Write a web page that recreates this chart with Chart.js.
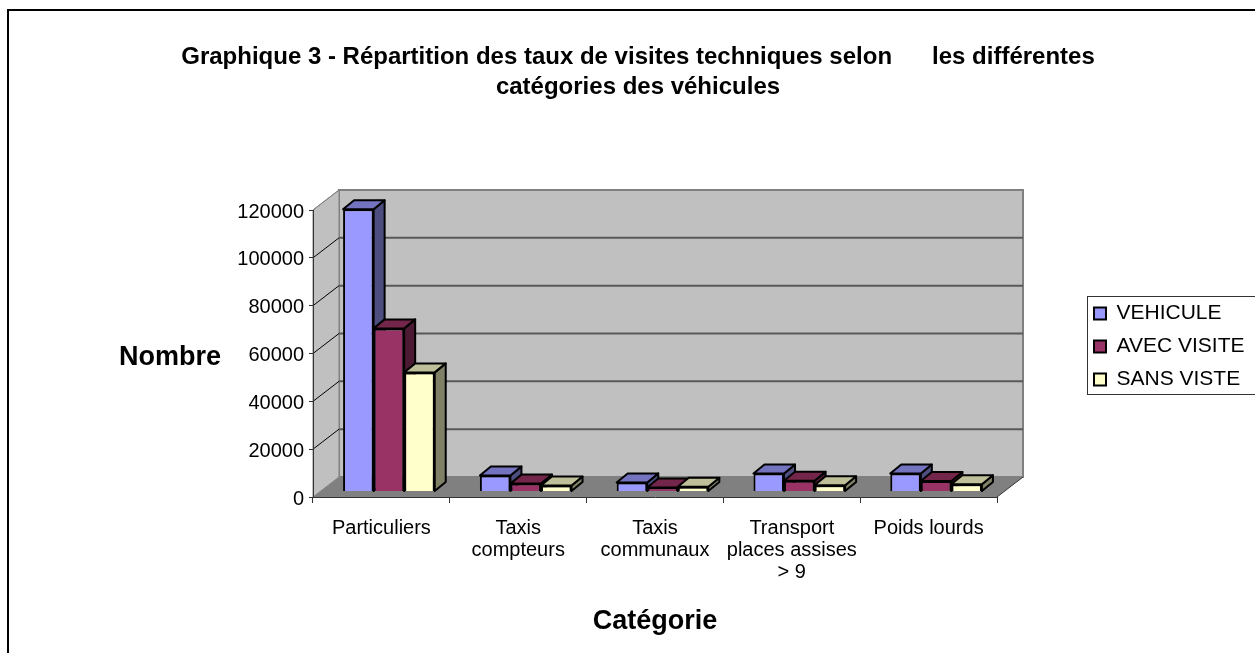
<!DOCTYPE html>
<html>
<head>
<meta charset="utf-8">
<title>Graphique 3</title>
<script src="https://cdn.jsdelivr.net/npm/chart.js@4/dist/chart.umd.min.js"></script>
<style>
    body { margin: 0; background: #fff; overflow: hidden; }
    canvas { display: block; }
</style>
</head>
<body>
<canvas id="chart" width="1255" height="653"></canvas>
<script>
// Data
const categories = [
    'Particuliers',
    ['Taxis', 'compteurs'],
    ['Taxis', 'communaux'],
    ['Transport', 'places assises', '> 9'],
    'Poids lourds'
];
const seriesNames = ['VEHICULE', 'AVEC VISITE', 'SANS VISTE'];
const vehicule = [118000, 6700, 3800, 7500, 7500];
const avecVisite = [68200, 3300, 1700, 4500, 4400];
const sansViste = [49800, 2500, 2000, 2600, 3000];

// Colours: front, side and top of each series
const frontColors = ['#9999FF', '#993366', '#FFFFCC'];
const sideColors = ['#4D4D80', '#4D1A33', '#808066'];
const topColors = ['#7373BF', '#732649', '#BFBF99'];

// Depth of the plot box and of the bars
const wallDx = 26, wallDy = 20;
const barDx = 11, barDy = 9;

function poly(ctx, points, fill, stroke, lineWidth) {
    ctx.beginPath();
    points.forEach((p, i) => i ? ctx.lineTo(p[0], p[1]) : ctx.moveTo(p[0], p[1]));
    ctx.closePath();
    if (fill) { ctx.fillStyle = fill; ctx.fill(); }
    if (stroke) { ctx.strokeStyle = stroke; ctx.lineWidth = lineWidth; ctx.stroke(); }
}

// Walls, floor, frame and legend box go under everything else
const backdrop = {
    id: 'backdrop',
    afterLayout(chart) {
        chart.titleBlock.left = 21;
        chart.titleBlock.right = 1255;
        const legend = chart.legend;
        legend.left = 1082;
        legend.top = 291;
        legend.right = 1255;
        legend.bottom = 440;
        legend.width = 173;
        legend.height = 149;
    },
    beforeDraw(chart) {
        const ctx = chart.ctx;
        const { left, right, top, bottom } = chart.chartArea;
        const y = chart.scales.y;
        ctx.save();

        // Frame of the picture, cut off on the right and bottom
        ctx.strokeStyle = '#000';
        ctx.lineWidth = 2;
        ctx.beginPath();
        ctx.moveTo(8, 653);
        ctx.lineTo(8, 10);
        ctx.lineTo(1255, 10);
        ctx.stroke();

        poly(ctx, [[left + wallDx, top - wallDy], [right + wallDx, top - wallDy],
            [right + wallDx, bottom - wallDy], [left + wallDx, bottom - wallDy]], '#C0C0C0', '#808080', 2);
        poly(ctx, [[left, top], [left + wallDx, top - wallDy],
            [left + wallDx, bottom - wallDy], [left, bottom]], '#C0C0C0', '#808080', 1);

        // Gridlines on the back wall and the left wall
        y.ticks.forEach(t => {
            const py = y.getPixelForValue(t.value);
            if (t.value === 0) return;
            if (t.value < y.max) {
                ctx.strokeStyle = '#595959';
                ctx.lineWidth = 2;
                ctx.beginPath();
                ctx.moveTo(left + wallDx, py - wallDy);
                ctx.lineTo(right + wallDx, py - wallDy);
                ctx.stroke();
            }
            ctx.strokeStyle = t.value < y.max ? '#000' : '#808080';
            ctx.lineWidth = 1;
            ctx.beginPath();
            ctx.moveTo(left, py);
            ctx.lineTo(left + wallDx, py - wallDy);
            ctx.stroke();
        });

        // Floor
        poly(ctx, [[left, bottom], [left + wallDx, bottom - wallDy],
            [right + wallDx, bottom - wallDy], [right, bottom]], '#808080', null, 0);
        ctx.strokeStyle = '#333';
        ctx.lineWidth = 1;
        ctx.beginPath();
        ctx.moveTo(right, bottom);
        ctx.lineTo(right + wallDx, bottom - wallDy);
        ctx.stroke();

        // Legend box
        ctx.strokeStyle = '#333';
        ctx.lineWidth = 1;
        ctx.strokeRect(1087.5, 296.5, 180, 98);

        // Value axis title is horizontal in the original
        ctx.fillStyle = '#000';
        ctx.font = 'bold 27px "Liberation Sans"';
        ctx.textAlign = 'center';
        ctx.textBaseline = 'middle';
        ctx.fillText('Nombre', 170, 358);
        ctx.restore();
    },
    // Bars are drawn here, series by series, so later series sit in front
    beforeDatasetDraw() {
        return false;
    },
    afterDatasetsDraw(chart) {
        const ctx = chart.ctx;
        ctx.save();
        ctx.translate((wallDx - barDx) / 2, -(wallDy - barDy) / 2);
        ctx.lineJoin = 'round';
        chart.data.datasets.forEach((ds, i) => {
            chart.getDatasetMeta(i).data.forEach(bar => {
                const l = bar.x - bar.width / 2;
                const r = bar.x + bar.width / 2;
                poly(ctx, [[r, bar.y], [r + barDx, bar.y - barDy], [r + barDx, bar.base - barDy], [r, bar.base]],
                    sideColors[i], '#000', 2);
                poly(ctx, [[l, bar.y], [l + barDx, bar.y - barDy], [r + barDx, bar.y - barDy], [r, bar.y]],
                    topColors[i], '#000', 2);
                bar.draw(ctx);
            });
        });
        ctx.restore();
    }
};

function makeDataset(index, values) {
    return {
        label: seriesNames[index],
        data: values,
        backgroundColor: frontColors[index],
        borderColor: '#000',
        borderWidth: 2
    };
}

new Chart(document.getElementById('chart'), {
    type: 'bar',
    data: {
        labels: categories,
        datasets: [makeDataset(0, vehicule), makeDataset(1, avecVisite), makeDataset(2, sansViste)]
    },
    plugins: [backdrop],
    options: {
        responsive: false,
        animation: false,
        categoryPercentage: 0.67,
        barPercentage: 1,
        font: { family: '"Liberation Sans"' },
        color: '#000',
        layout: { padding: { left: 0, right: 258, top: 0, bottom: 0 } },
        plugins: {
            tooltip: { enabled: false },
            title: {
                display: true,
                text: [
                    'Graphique 3 - Répartition des taux de visites techniques selon      les différentes',
                    'catégories des véhicules'
                ],
                color: '#000',
                font: { family: '"Liberation Sans"', size: 24, weight: 'bold', lineHeight: 1.25 },
                padding: { top: 42, bottom: 108 }
            },
            legend: {
                position: 'chartArea',
                align: 'start',
                labels: {
                    boxWidth: 12,
                    boxHeight: 12,
                    padding: 12,
                    color: '#000',
                    font: { family: '"Liberation Sans"', size: 21 }
                }
            }
        },
        scales: {
            x: {
                afterFit(scale) { scale.height = 156; },
                grid: { drawOnChartArea: false, color: '#333', tickLength: 6 },
                border: { color: '#333', width: 1 },
                ticks: {
                    color: '#000',
                    maxRotation: 0,
                    autoSkip: false,
                    padding: 14,
                    font: { family: '"Liberation Sans"', size: 20, lineHeight: 1.1 }
                },
                title: {
                    display: true,
                    text: 'Catégorie',
                    color: '#000',
                    font: { family: '"Liberation Sans"', size: 27, weight: 'bold' },
                    padding: { top: 0, bottom: 15 }
                }
            },
            y: {
                min: 0,
                max: 120000,
                afterFit(scale) { scale.width = 313; },
                grid: { drawOnChartArea: false, color: '#333', tickLength: 4 },
                border: { color: '#333', width: 1 },
                ticks: {
                    stepSize: 20000,
                    color: '#000',
                    padding: 5,
                    labelOffset: 2,
                    callback: value => String(value),
                    font: { family: '"Liberation Sans"', size: 20 }
                }
            }
        }
    }
});
</script>
</body>
</html>
